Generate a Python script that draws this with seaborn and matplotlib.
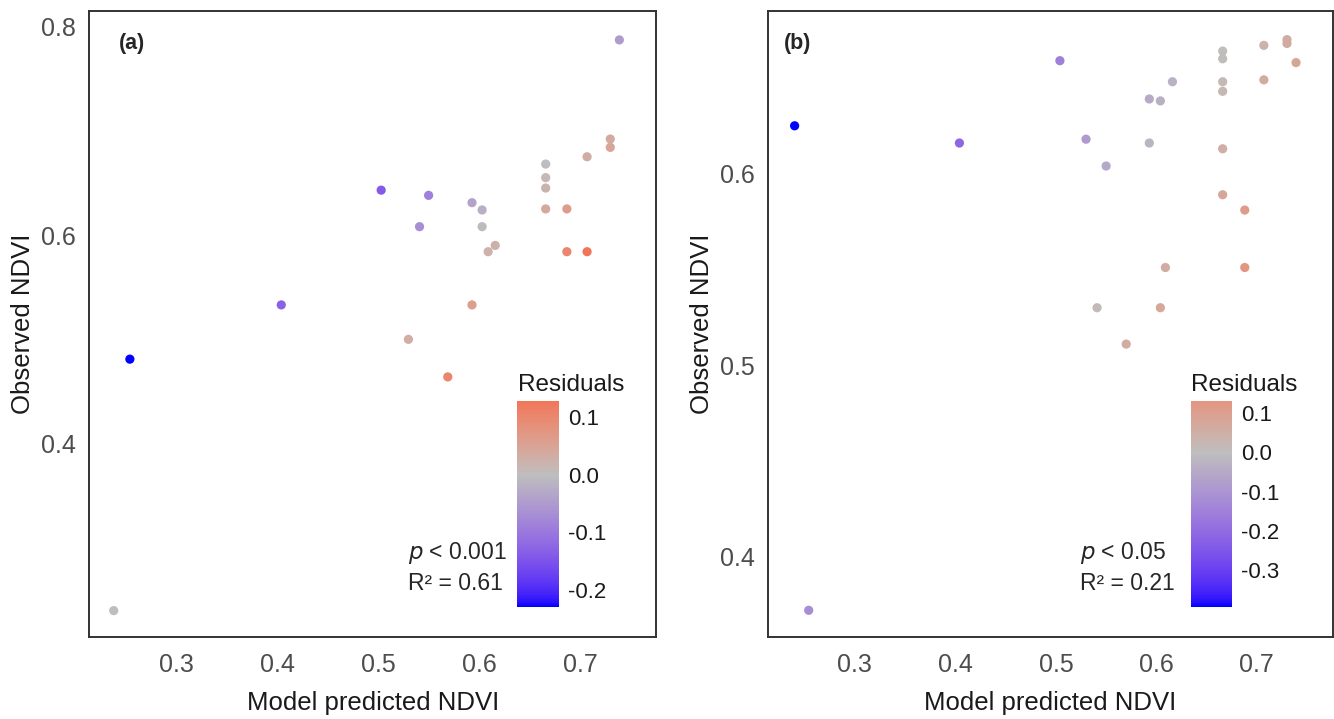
import numpy as np
import pandas as pd
import matplotlib
matplotlib.use("Agg")
import matplotlib.pyplot as plt
import matplotlib.colors as mcolors
import matplotlib.cm as cm
import seaborn as sns

# =========================
# dados
# =========================
pred_a = [0.739, 0.730, 0.730, 0.707, 0.666, 0.666, 0.666, 0.666, 0.687,
          0.503, 0.550, 0.593, 0.603, 0.541, 0.603, 0.616, 0.609, 0.687,
          0.707, 0.404, 0.593, 0.530, 0.254, 0.569, 0.238]
obs_a = [0.787, 0.692, 0.684, 0.675, 0.668, 0.655, 0.645, 0.625, 0.625,
         0.643, 0.638, 0.631, 0.624, 0.608, 0.608, 0.590, 0.584, 0.584,
         0.584, 0.533, 0.533, 0.500, 0.481, 0.464, 0.240]
res_a = [-0.048, 0.038, 0.046, 0.032, -0.002, 0.011, 0.021, 0.041, 0.062,
         -0.140, -0.088, -0.038, -0.021, -0.067, -0.005, 0.026, 0.025, 0.103,
         0.129, -0.129, 0.060, 0.030, -0.229, 0.105, -0.002]

pred_b = [0.730, 0.730, 0.707, 0.666, 0.666, 0.739, 0.504, 0.616, 0.666,
          0.666, 0.707, 0.593, 0.604, 0.240, 0.404, 0.530, 0.593, 0.666,
          0.550, 0.666, 0.688, 0.609, 0.688, 0.541, 0.604, 0.570, 0.254]
obs_b = [0.670, 0.668, 0.667, 0.664, 0.660, 0.658, 0.659, 0.648, 0.648,
         0.643, 0.649, 0.639, 0.638, 0.625, 0.616, 0.618, 0.616, 0.613,
         0.604, 0.589, 0.581, 0.551, 0.551, 0.530, 0.530, 0.511, 0.372]
res_b = [0.060, 0.062, 0.040, 0.002, 0.006, 0.081, -0.155, -0.032, 0.018,
         0.023, 0.058, -0.046, -0.034, -0.393, -0.212, -0.087, -0.023, 0.053,
         -0.054, 0.077, 0.107, 0.058, 0.131, 0.011, 0.074, 0.059, -0.118]

x_ticks = [0.3, 0.4, 0.5, 0.6, 0.7]
y_ticks_a = [0.4, 0.6, 0.8]
y_ticks_b = [0.4, 0.5, 0.6]
cbar_ticks_a = [-0.2, -0.1, 0.0, 0.1]
cbar_ticks_b = [-0.3, -0.2, -0.1, 0.0, 0.1]

# =========================
# estilo
# =========================
sns.set_theme(style="white")
plt.rcParams["font.family"] = ["Liberation Sans", "DejaVu Sans"]
plt.rcParams["axes.unicode_minus"] = False

W, H = 1334, 719
fig = plt.figure(figsize=(W / 100, H / 100), dpi=100)


def caixa(left, top, right, bottom):
    # converte pixels da imagem em fração da figura
    return [left / W, 1 - bottom / H, (right - left) / W, (bottom - top) / H]


def fig_px(x, y):
    return x / W, 1 - y / H


# =========================
# gradiente em Lab (low = blue, mid = grey, high = red)
# =========================
M_XYZ = np.array([[0.4124, 0.3576, 0.1805],
                  [0.2126, 0.7152, 0.0722],
                  [0.0193, 0.1192, 0.9505]])
BRANCO = np.array([0.95047, 1.0, 1.08883])


def para_lab(cor):
    rgb = np.array(mcolors.to_rgb(cor))
    lin = np.where(rgb <= 0.04045, rgb / 12.92, ((rgb + 0.055) / 1.055) ** 2.4)
    xyz = M_XYZ @ lin / BRANCO
    f = np.where(xyz > 0.008856, np.cbrt(xyz), 7.787 * xyz + 16 / 116)
    return np.array([116 * f[1] - 16, 500 * (f[0] - f[1]), 200 * (f[1] - f[2])])


def de_lab(lab):
    fy = (lab[:, 0] + 16) / 116
    fx = fy + lab[:, 1] / 500
    fz = fy - lab[:, 2] / 200
    f = np.stack([fx, fy, fz], axis=1)
    xyz = np.where(f ** 3 > 0.008856, f ** 3, (f - 16 / 116) / 7.787) * BRANCO
    lin = xyz @ np.linalg.inv(M_XYZ).T
    lin = np.clip(lin, 0, 1)
    rgb = np.where(lin <= 0.0031308, 12.92 * lin, 1.055 * lin ** (1 / 2.4) - 0.055)
    return np.clip(rgb, 0, 1)


LAB_STOPS = np.array([para_lab("#0000FF"), para_lab("#BEBEBE"), para_lab("#FF0000")])


def cores_gradiente2(valores, lo, hi):
    m = max(abs(lo), abs(hi))
    t = 0.5 + np.asarray(valores) / (2 * m)
    lab = np.stack([np.interp(t, [0, 0.5, 1], LAB_STOPS[:, k]) for k in range(3)], axis=1)
    return de_lab(lab)


# =========================
# painéis
# =========================
paineis = [
    dict(pred=pred_a, obs=obs_a, res=res_a, yt=y_ticks_a, ct=cbar_ticks_a,
         ylim=(0.2144, 0.815), box=(89.3, 10.7, 656.0, 637.3),
         cbox=(517.3, 400.7, 559.3, 606.7), tag="(a)", tag_x=119.3,
         ptxt="< 0.001", r2="R\u00b2 = 0.61", txt_x=408),
    dict(pred=pred_b, obs=obs_b, res=res_b, yt=y_ticks_b, ct=cbar_ticks_b,
         ylim=(0.3579, 0.6851), box=(768.3, 10.7, 1332.5, 637.3),
         cbox=(1190.7, 400.7, 1232.0, 606.7), tag="(b)", tag_x=784.3,
         ptxt="< 0.05", r2="R\u00b2 = 0.21", txt_x=1080),
]

cinza_borda = "#333333"

for p in paineis:
    ax = fig.add_axes(caixa(*p["box"]))
    df = pd.DataFrame({"pred": p["pred"], "obs": p["obs"], "res": p["res"]})
    lo, hi = df["res"].min(), df["res"].max()
    cmap = mcolors.ListedColormap(cores_gradiente2(np.linspace(lo, hi, 256), lo, hi))

    sns.scatterplot(data=df, x="pred", y="obs", hue="res", palette=cmap,
                    hue_norm=(lo, hi), s=44, linewidth=0, legend=False, ax=ax)

    ax.set_xlim(0.2138, 0.7753)
    ax.set_ylim(*p["ylim"])
    ax.set_xticks(x_ticks)
    ax.set_yticks(p["yt"])
    ax.set_xticklabels([f"{v:.1f}" for v in x_ticks])
    ax.set_yticklabels([f"{v:.1f}" for v in p["yt"]])
    ax.tick_params(direction="in", length=6.3, width=1.3, color=cinza_borda,
                   labelsize=18, labelcolor="#4D4D4D", pad=9.5)
    ax.tick_params(axis="x", pad=11.5)
    for s in ax.spines.values():
        s.set_visible(True)
        s.set_color(cinza_borda)
        s.set_linewidth(1.4)

    largura = p["box"][2] - p["box"][0]
    ax.set_xlabel("Model predicted NDVI", fontsize=18.5, color="#1A1A1A")
    ax.set_ylabel("Observed NDVI", fontsize=18.5, color="#1A1A1A")
    ax.xaxis.label.set_va("center")
    ax.yaxis.label.set_va("center")
    ax.xaxis.set_label_coords(0.5, (637.3 - 703) / 626.6)
    ax.yaxis.set_label_coords(-66.5 / largura, 0.5)

    # rótulo do painel
    fig.text(*fig_px(p["tag_x"], 43.3), p["tag"], fontsize=15.5, fontweight="bold",
             color="#262626", ha="left", va="center")

    # estatísticas
    fig.text(*fig_px(p["txt_x"], 553), "$\\it{p}$ " + p["ptxt"], fontsize=16.5,
             color="#262626", ha="left", va="center")
    fig.text(*fig_px(p["txt_x"], 583), p["r2"], fontsize=16.5,
             color="#262626", ha="left", va="center")

    # barra de cores
    cax = fig.add_axes(caixa(*p["cbox"]))
    sm = cm.ScalarMappable(norm=mcolors.Normalize(lo, hi), cmap=cmap)
    cbar = fig.colorbar(sm, cax=cax)
    cbar.outline.set_visible(False)
    cbar.set_ticks(p["ct"])
    cbar.set_ticklabels([f"{v:.1f}" for v in p["ct"]])
    cax.tick_params(direction="in", left=True, right=True, labelleft=False,
                    labelright=True, length=5.8, width=1.2, color="white",
                    labelsize=16, labelcolor="#1A1A1A", pad=6.5)
    fig.text(*fig_px(p["cbox"][0] + 0.5, 390.7), "Residuals", fontsize=17.5,
             color="#1A1A1A", ha="left", va="baseline")

fig.savefig("out.png", dpi=100, facecolor="white")
